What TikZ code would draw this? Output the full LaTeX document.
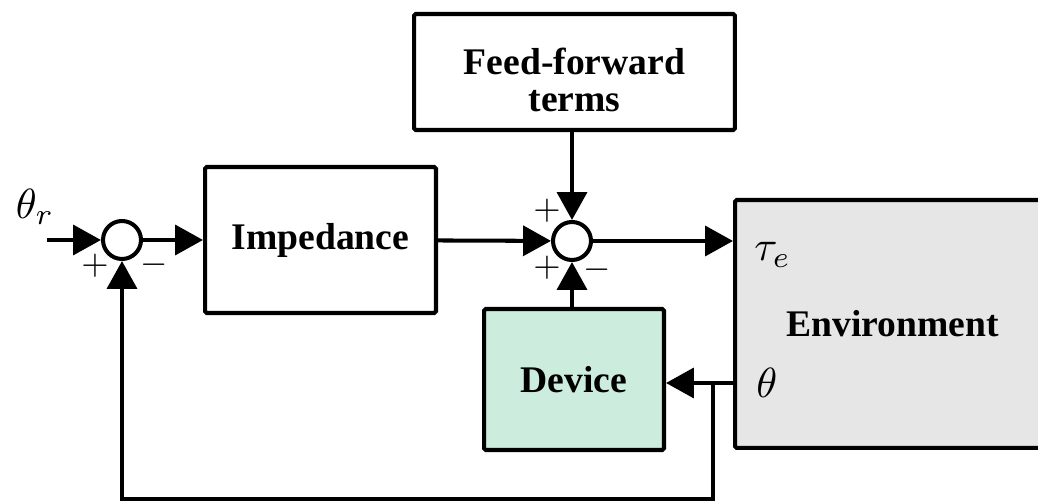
\documentclass[tikz,border=0pt]{standalone}
\usepackage{fontspec}
\setmainfont{Liberation Serif}
\usetikzlibrary{positioning, arrows.meta, calc}

\definecolor{devgreen}{RGB}{204,236,221}
\definecolor{envgray}{RGB}{230,230,230}

\newcommand{\biglbl}[1]{\scalebox{2.4}{$#1$}}
\newcommand{\bigsign}[1]{\scalebox{2.0}{$#1$}}

\tikzset{
  block/.style={draw, line width=2.3pt, rounded corners=1pt, align=center, inner sep=0pt,
    font=\fontsize{21.4}{21.5}\selectfont\bfseries},
  sumnode/.style={draw, circle, line width=2.3pt, inner sep=0pt, minimum size=0.76cm},
  sig/.style={line width=2.3pt, -{Triangle[length=15.9pt, width=17pt]}},
  sign/.style={inner sep=0pt},
  lbl/.style={inner sep=0pt},
}

\begin{document}
\begin{tikzpicture}[x=0.02cm, y=-0.02cm]
  \useasboundingbox (0,0) rectangle (1038,502);
  \clip (0,0) rectangle (1038,502);

  % summing junctions
  \node[sumnode] (sumL) at (122,240) {};
  \node[sumnode] (sumC) at (572,241) {};

  % blocks
  \node[block, minimum width=4.62cm, minimum height=2.92cm] (imp) at (320.5,240) {Impedance};
  \node[block, minimum width=6.42cm, minimum height=2.32cm] (ff) at (574.5,72) {};
  \node[block, draw=none, yshift=-0.16cm] (fftext) at (ff.center) {Feed-forward\\terms};
  \node[block, fill=devgreen, minimum width=3.6cm, minimum height=2.82cm] (dev) at (574,379.5) {Device};
  \node[block, fill=envgray, minimum width=6.3cm, minimum height=4.96cm] (env) at (892.5,324) {Environment};

  % signal labels
  \node[lbl] (thr) at (35,207) {\biglbl{\theta_r}};
  \node[lbl, anchor=west] (tau) at (754,255) {\biglbl{\tau_e}};
  \node[lbl, anchor=west] (th) at (756,383) {\biglbl{\theta}};

  % signs at the junctions
  \node[sign] (pL) at (95,266) {\bigsign{+}};
  \node[sign] (mL) at (154,265) {\bigsign{-}};
  \node[sign] (pCt) at (547,211) {\bigsign{+}};
  \node[sign] (pCb) at (547,268) {\bigsign{+}};
  \node[sign] (mC) at (597,270) {\bigsign{-}};

  % forward path
  \coordinate (in) at (47,240);
  \draw[sig] (in) -- (sumL);
  \draw[sig] (sumL) -- (imp);
  \draw[sig] (imp) -- (sumC);
  \draw[sig] (sumC |- ff.south) -- (sumC);
  \draw[sig] (sumC |- dev.north) -- (sumC);
  \draw[sig] (sumC) -- (sumC -| env.west);

  % feedback of theta
  \coordinate (tap) at (713,383);
  \coordinate (bot) at (118,499);
  \draw[sig] (env.west |- tap) -- (dev.east |- tap);
  \draw[sig] (tap) |- (sumL |- bot) -- (sumL);
\end{tikzpicture}
\end{document}
